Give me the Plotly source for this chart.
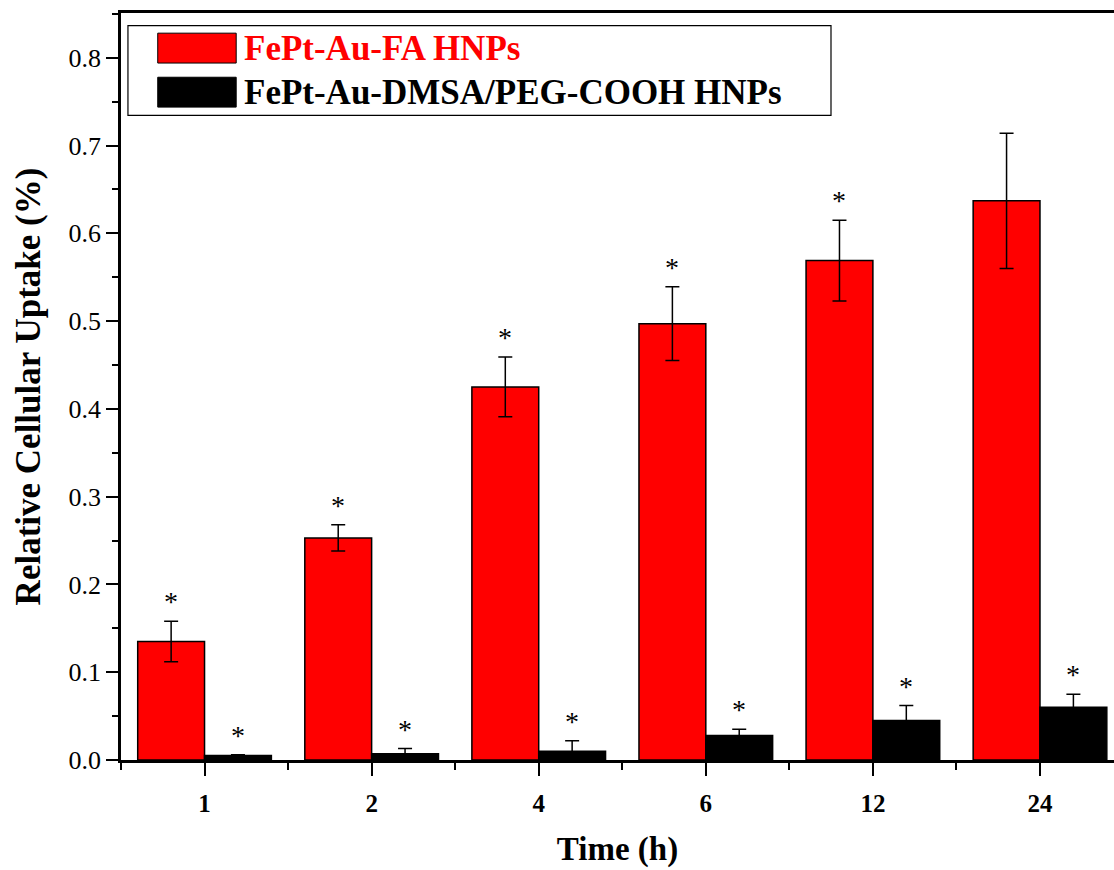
import plotly.graph_objects as go

categories = ["1", "2", "4", "6", "12", "24"]
fa_values = [0.135, 0.253, 0.425, 0.497, 0.569, 0.637]
fa_errors = [0.023, 0.015, 0.034, 0.042, 0.046, 0.077]
dmsa_values = [0.005, 0.007, 0.010, 0.028, 0.045, 0.060]
dmsa_errors = [0.001, 0.006, 0.012, 0.007, 0.017, 0.015]
fa_star = [True, True, True, True, True, False]
dmsa_star = [True, True, True, True, True, True]

FONT = "Liberation Serif"
xs = list(range(len(categories)))

fig = go.Figure()
fig.add_trace(go.Bar(
    x=xs, y=fa_values, name="FePt-Au-FA HNPs",
    marker=dict(color="#ff0000", line=dict(color="black", width=1.5)),
    error_y=dict(type="data", array=fa_errors, visible=True, color="black", thickness=1.5, width=7),
))
fig.add_trace(go.Bar(
    x=xs, y=dmsa_values, name="FePt-Au-DMSA/PEG-COOH HNPs",
    marker=dict(color="black", line=dict(color="black", width=1.5)),
    error_y=dict(type="data", array=dmsa_errors, visible=True, color="black", thickness=1.5, width=7),
))

annotations = []
for i, (v, e, s) in enumerate(zip(fa_values, fa_errors, fa_star)):
    if s:
        annotations.append(dict(x=i - 0.2, y=v + e, text="*", showarrow=False,
                                yanchor="bottom", yshift=2, font=dict(family=FONT, size=28, color="black")))
for i, (v, e, s) in enumerate(zip(dmsa_values, dmsa_errors, dmsa_star)):
    if s:
        annotations.append(dict(x=i + 0.2, y=v + e, text="*", showarrow=False,
                                yanchor="bottom", yshift=2, font=dict(family=FONT, size=28, color="black")))

# manual legend
annotations.append(dict(xref="paper", yref="paper", x=0.122, y=0.953, text="<b>FePt-Au-FA HNPs</b>",
                        showarrow=False, xanchor="left", yanchor="middle",
                        font=dict(family=FONT, size=35, color="#ff0000")))
annotations.append(dict(xref="paper", yref="paper", x=0.122, y=0.893, text="<b>FePt-Au-DMSA/PEG-COOH HNPs</b>",
                        showarrow=False, xanchor="left", yanchor="middle",
                        font=dict(family=FONT, size=35, color="black")))

shapes = [
    dict(type="rect", xref="paper", yref="paper", x0=0.007, x1=0.715, y0=0.863, y1=0.983,
         line=dict(color="black", width=1.2), fillcolor="white", layer="above"),
    dict(type="rect", xref="paper", yref="paper", x0=0.037, x1=0.116, y0=0.933, y1=0.973,
         line=dict(color="black", width=1), fillcolor="#ff0000", layer="above"),
    dict(type="rect", xref="paper", yref="paper", x0=0.037, x1=0.116, y0=0.874, y1=0.914,
         line=dict(color="black", width=1), fillcolor="black", layer="above"),
]

fig.update_layout(
    width=1114, height=870,
    margin=dict(l=121, r=0, t=13, b=110),
    paper_bgcolor="white", plot_bgcolor="white",
    barmode="group", bargap=0.2, bargroupgap=0,
    showlegend=False,
    annotations=annotations, shapes=shapes,
    font=dict(family=FONT, color="black"),
)
fig.update_xaxes(
    range=[-0.5, 5.443], tickvals=xs, ticktext=[f"<b>{c}</b>" for c in categories],
    tickfont=dict(family=FONT, size=25, color="black"),
    ticks="outside", ticklen=13, tickwidth=2, tickcolor="black", ticklabelstandoff=6,
    minor=dict(tickvals=[i - 0.5 for i in range(len(categories) + 1)], ticks="outside",
               ticklen=7, tickwidth=2, tickcolor="black"),
    showline=True, linecolor="black", linewidth=2.5, mirror=True,
    showgrid=False, zeroline=False,
    title=dict(text="<b>Time (h)</b>", font=dict(family=FONT, size=33, color="black"), standoff=22),
)
fig.update_yaxes(
    range=[0, 0.851], tickvals=[0, 0.1, 0.2, 0.3, 0.4, 0.5, 0.6, 0.7, 0.8],
    ticktext=["0.0", "0.1", "0.2", "0.3", "0.4", "0.5", "0.6", "0.7", "0.8"],
    tickfont=dict(family=FONT, size=26, color="black"),
    ticks="outside", ticklen=12, tickwidth=2, tickcolor="black",
    minor=dict(dtick=0.05, ticks="outside", ticklen=6, tickwidth=2, tickcolor="black"),
    showline=True, linecolor="black", linewidth=2.5, mirror=False,
    showgrid=False, zeroline=False,
    title=dict(text="<b>Relative Cellular Uptake (%)</b>", font=dict(family=FONT, size=35, color="black"), standoff=18),
)

fig.write_html("out.html")
